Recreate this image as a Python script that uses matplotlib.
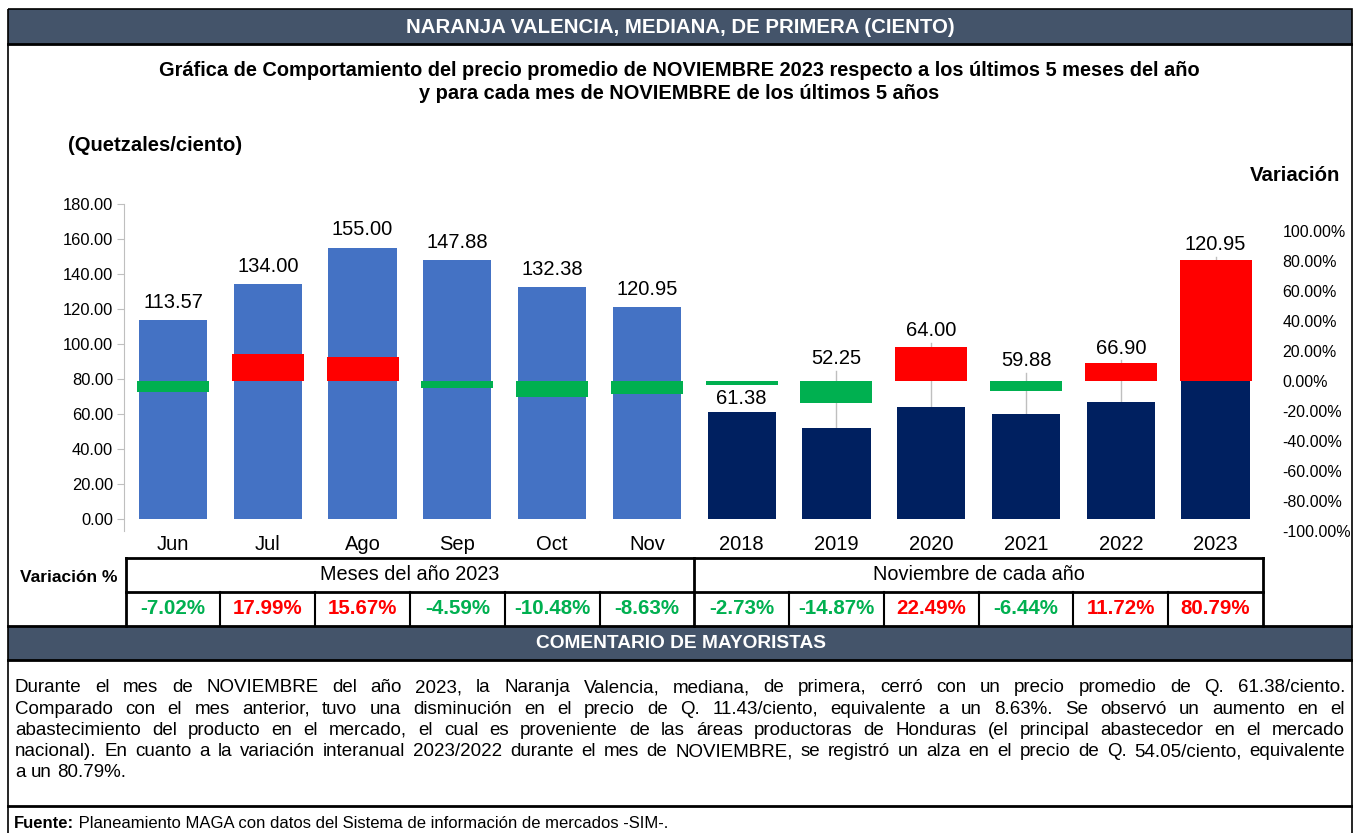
import matplotlib
matplotlib.use("Agg")
import matplotlib.pyplot as plt
from matplotlib.patches import Rectangle
from matplotlib.ticker import FuncFormatter

plt.rcParams["font.family"] = ["Liberation Sans", "DejaVu Sans"]

# ---- data ----
categories = ["Jun", "Jul", "Ago", "Sep", "Oct", "Nov",
              "2018", "2019", "2020", "2021", "2022", "2023"]
prices = [113.57, 134.00, 155.00, 147.88, 132.38, 120.95,
          61.38, 52.25, 64.00, 59.88, 66.90, 120.95]
variations = [-7.02, 17.99, 15.67, -4.59, -10.48, -8.63,
              -2.73, -14.87, 22.49, -6.44, 11.72, 80.79]
group_labels = ["Meses del año 2023", "Noviembre de cada año"]
n_months = 6

title = "NARANJA VALENCIA, MEDIANA, DE PRIMERA (CIENTO)"
subtitle = ["Gráfica de Comportamiento del precio promedio de NOVIEMBRE 2023 respecto a los últimos 5 meses del año",
            "y para cada mes de NOVIEMBRE de los últimos 5 años"]
comment_lines = [
    "Durante el mes de NOVIEMBRE del año 2023,  la Naranja Valencia, mediana, de primera, cerró con un precio promedio de Q. 61.38/ciento.",
    "Comparado con el mes anterior, tuvo una disminución en el precio de Q. 11.43/ciento, equivalente a un 8.63%. Se observó un aumento en el",
    "abastecimiento del producto en el mercado, el cual es proveniente de las áreas productoras de Honduras (el principal abastecedor en el mercado",
    "nacional). En cuanto a la variación interanual 2023/2022 durante el mes de NOVIEMBRE, se registró un alza en el precio de Q. 54.05/ciento, equivalente",
    "a un 80.79%.",
]
source_bold = "Fuente:"
source_text = " Planeamiento MAGA con datos del Sistema de información de mercados -SIM-."

# label heights for the yearly bars (price units), placed above the variation bars
year_label_y = [69.0, 91.5, 107.5, 90.3, 97.7, 156.6]

# ---- styles ----
W, H = 1353, 833
HEADER = "#44546A"
MONTH_BLUE = "#4472C4"
YEAR_NAVY = "#002060"
RED = "#FF0000"
GREEN = "#00B050"
GRAY = "#BFBFBF"
LABEL_SIZE = 14.5

fig = plt.figure(figsize=(W / 100, H / 100), dpi=100)

# background axes in pixel coordinates for frame and text blocks
bg = fig.add_axes([0, 0, 1, 1], zorder=-1)
bg.set_xlim(0, W)
bg.set_ylim(H, 0)
bg.axis("off")

bg.add_patch(Rectangle((8, 9), W - 9, 35, fc=HEADER, ec="none"))
bg.add_patch(Rectangle((8, 626), W - 9, 34, fc=HEADER, ec="none"))
bg.add_patch(Rectangle((8, 9), W - 9, H, fc="none", ec="black", lw=1.2))
for yy in [44, 626, 660, 806]:
    bg.plot([8, W], [yy, yy], color="black", lw=2)

bg.text(680, 27, title, color="white", fontsize=14.7, fontweight="bold", ha="center", va="center")
bg.text(679, 70, subtitle[0], fontsize=14.4, fontweight="bold", ha="center", va="center")
bg.text(679, 93, subtitle[1], fontsize=14.4, fontweight="bold", ha="center", va="center")
bg.text(68, 145, "(Quetzales/ciento)", fontsize=14.6, fontweight="bold", ha="left", va="center")
bg.text(1340, 175, "Variación", fontsize=14.7, fontweight="bold", ha="right", va="center")
bg.text(20, 577, "Variación %", fontsize=12.5, fontweight="bold", ha="left", va="center")
bg.text(681, 643, "COMENTARIO DE MAYORISTAS", color="white", fontsize=13.8, fontweight="bold",
        ha="center", va="center")

# ---- main chart ----
x0_px, x1_px, top_px, bot_px = 124, 1263, 204, 531
ax = fig.add_axes([x0_px / W, 1 - bot_px / H, (x1_px - x0_px) / W, (bot_px - top_px) / H])
ax.patch.set_visible(False)
xs = list(range(len(categories)))
bar_colors = [MONTH_BLUE] * n_months + [YEAR_NAVY] * (len(categories) - n_months)
ax.bar(xs, prices, width=0.72, color=bar_colors, zorder=2)
ax.set_xlim(-0.517, 11.5)
ax.set_ylim(-6.86, 180)
ax.set_yticks(range(0, 181, 20))
ax.yaxis.set_major_formatter(FuncFormatter(lambda v, p: f"{v:.2f}"))
ax.set_xticks(xs)
ax.set_xticklabels(categories, fontsize=LABEL_SIZE)
ax.tick_params(axis="x", length=0, pad=3)
ax.tick_params(axis="y", color=GRAY, length=5, labelsize=11.9, pad=3)
for s in ["top", "right", "bottom"]:
    ax.spines[s].set_visible(False)
ax.spines["left"].set_color(GRAY)

# value labels
for i, p in enumerate(prices):
    if i < n_months:
        ax.annotate(f"{p:.2f}", (i, p), xytext=(0, 6), textcoords="offset points",
                    ha="center", va="bottom", fontsize=LABEL_SIZE)
    else:
        ly = year_label_y[i - n_months]
        ax.text(i, ly, f"{p:.2f}", ha="center", va="center", fontsize=LABEL_SIZE)
        start = ly - 6.8
        if start > p + 3:
            ax.plot([i, i], [start, p], color=GRAY, lw=1, zorder=1)

# variation bars on the secondary axis
ax2 = ax.twinx()
var_colors = [RED if v > 0 else GREEN for v in variations]
ax2.bar(xs, variations, width=0.76, color=var_colors, zorder=3)
ax2.set_ylim(-100, 118)
ax2.set_yticks(range(-100, 101, 20))
ax2.yaxis.set_major_formatter(FuncFormatter(lambda v, p: f"{v:.2f}%"))
ax2.tick_params(axis="y", length=0, labelsize=11.5, pad=14)
for s in ax2.spines.values():
    s.set_visible(False)

# ---- variation table ----
tb = fig.add_axes([x0_px / W, 1 - 626 / H, (x1_px - x0_px) / W, 68 / H])
tb.set_xlim(ax.get_xlim())
tb.set_ylim(0, 2)
tb.axis("off")
left, right = -0.5, len(categories) - 0.5
for yy in [2, 1]:
    tb.plot([left, right], [yy, yy], color="black", lw=2, clip_on=False)
for xx in [left, n_months - 0.5, right]:
    tb.plot([xx, xx], [0, 2], color="black", lw=2, clip_on=False)
for i in range(len(categories) - 1):
    if i != n_months - 1:
        tb.plot([i + 0.5, i + 0.5], [0, 1], color="black", lw=1.5, clip_on=False)
tb.text((n_months - 1) / 2, 1.5, group_labels[0], ha="center", va="center", fontsize=14.3)
tb.text((n_months + len(categories) - 1) / 2, 1.5, group_labels[1], ha="center", va="center", fontsize=14.3)
for i, v in enumerate(variations):
    tb.text(i, 0.5, f"{v:.2f}%", ha="center", va="center", fontsize=14.8,
            fontweight="bold", color=var_colors[i])

# ---- comment paragraph, justified ----
renderer = fig.canvas.get_renderer()
para_size = 13.5
px0, px1 = 15, 1345
space = para_size * 100 / 72 * 0.278
for k, line in enumerate(comment_lines):
    y = 688 + k * 21.2
    words = line.split()
    texts = [bg.text(0, y, w, fontsize=para_size, ha="left", va="center") for w in words]
    widths = [t.get_window_extent(renderer).width for t in texts]
    if k < len(comment_lines) - 1:
        gap = max((px1 - px0 - sum(widths)) / (len(words) - 1), 2)
    else:
        gap = space
    xpos = px0
    for t, w in zip(texts, widths):
        t.set_x(xpos)
        xpos += w + gap

t1 = bg.text(14, 824, source_bold, fontsize=12, fontweight="bold", ha="left", va="center")
w1 = t1.get_window_extent(renderer).width
bg.text(14 + w1, 824, source_text, fontsize=12, ha="left", va="center")

fig.savefig("out.png", dpi=100)
